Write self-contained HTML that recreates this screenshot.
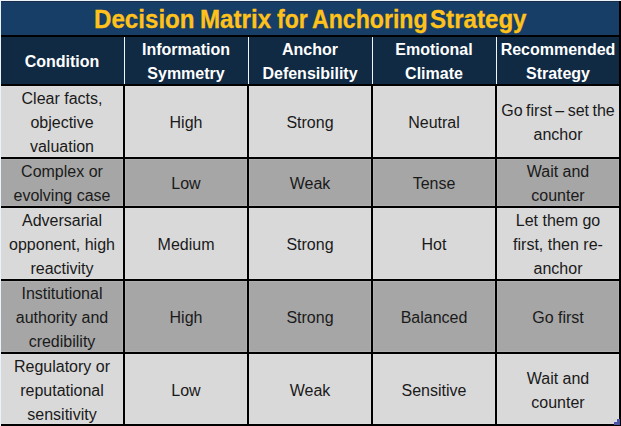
<!DOCTYPE html>
<html><head><meta charset="utf-8">
<style>
html,body{margin:0;padding:0;}
body{width:621px;height:426px;position:relative;overflow:hidden;background:#eaf3fb;font-family:"Liberation Sans",sans-serif;}
.a{position:absolute;}
.k{position:absolute;background:#000;}
.s{position:absolute;box-shadow:0 0 0 1px rgba(255,255,255,0.09);}
.title{left:1px;top:1px;width:618px;height:34px;background:#163e66;border-top:1px solid #1a2e4a;box-sizing:border-box;color:#ffc21a;font-weight:bold;font-size:24px;text-align:center;line-height:35px;letter-spacing:-0.39px;}
.tw{position:absolute;top:2px;height:34px;line-height:35px;color:#ffc21a;font-weight:bold;font-size:25px;white-space:nowrap;transform:scaleX(0.965);transform-origin:0 0;-webkit-text-stroke:0.3px #ffc21a;}
.hdr{top:37px;height:47px;background:#102a44;}
.c{position:absolute;box-sizing:border-box;padding-top:2px;display:flex;align-items:center;justify-content:center;text-align:center;font-size:16px;line-height:24px;color:#1a1a1a;}
.h{color:#fff;font-weight:bold;}
.l{background:#d9d9d9;}
.d{background:#a6a6a6;}
.w{position:absolute;background:#f2f6fa;width:1px;top:37px;height:47px;}
</style></head><body>
<div class="a title"></div>
<div class="tw" style="left:94px">Decision</div>
<div class="tw" style="left:200px">Matrix</div>
<div class="tw" style="left:277px;transform:scaleX(0.92)">for</div>
<div class="tw" style="left:312px;transform:scaleX(0.925)">Anchoring</div>
<div class="tw" style="left:430px">Strategy</div>
<div class="a hdr" style="left:1px;width:618px"></div>

<!-- header cells -->
<div class="c h" style="left:1px;top:37px;width:122px;height:47px"><div>Condition</div></div>
<div class="c h" style="left:125px;top:37px;width:122px;height:47px"><div>Information<br>Symmetry</div></div>
<div class="c h" style="left:249px;top:37px;width:122px;height:47px"><div>Anchor<br>Defensibility</div></div>
<div class="c h" style="left:373px;top:37px;width:122px;height:47px"><div>Emotional<br>Climate</div></div>
<div class="c h" style="left:497px;top:37px;width:122px;height:47px"><div>Recommended<br>Strategy</div></div>

<!-- row backgrounds -->
<div class="a l" style="left:1px;top:86px;width:618px;height:71px"></div>
<div class="a d" style="left:1px;top:159px;width:618px;height:47px"></div>
<div class="a l" style="left:1px;top:208px;width:618px;height:71px"></div>
<div class="a d" style="left:1px;top:281px;width:618px;height:71px"></div>
<div class="a l" style="left:1px;top:354px;width:618px;height:70px"></div>

<!-- row 1 -->
<div class="c" style="left:1px;top:86px;width:122px;height:71px"><div>Clear facts,<br>objective<br>valuation</div></div>
<div class="c" style="left:125px;top:86px;width:122px;height:71px"><div>High</div></div>
<div class="c" style="left:249px;top:86px;width:122px;height:71px"><div>Strong</div></div>
<div class="c" style="left:373px;top:86px;width:122px;height:71px"><div>Neutral</div></div>
<div class="c" style="left:497px;top:86px;width:122px;height:71px"><div><span style="word-spacing:-1px">Go first – set the</span><br>anchor</div></div>
<!-- row 2 -->
<div class="c" style="left:1px;top:159px;width:122px;height:47px"><div>Complex or<br>evolving case</div></div>
<div class="c" style="left:125px;top:159px;width:122px;height:47px"><div>Low</div></div>
<div class="c" style="left:249px;top:159px;width:122px;height:47px"><div>Weak</div></div>
<div class="c" style="left:373px;top:159px;width:122px;height:47px"><div>Tense</div></div>
<div class="c" style="left:497px;top:159px;width:122px;height:47px"><div>Wait and<br>counter</div></div>
<!-- row 3 -->
<div class="c" style="left:1px;top:208px;width:122px;height:71px"><div>Adversarial<br>opponent, high<br>reactivity</div></div>
<div class="c" style="left:125px;top:208px;width:122px;height:71px"><div>Medium</div></div>
<div class="c" style="left:249px;top:208px;width:122px;height:71px"><div>Strong</div></div>
<div class="c" style="left:373px;top:208px;width:122px;height:71px"><div>Hot</div></div>
<div class="c" style="left:497px;top:208px;width:122px;height:71px"><div>Let them go<br>first, then re-<br>anchor</div></div>
<!-- row 4 -->
<div class="c" style="left:1px;top:281px;width:122px;height:71px"><div>Institutional<br>authority and<br>credibility</div></div>
<div class="c" style="left:125px;top:281px;width:122px;height:71px"><div>High</div></div>
<div class="c" style="left:249px;top:281px;width:122px;height:71px"><div>Strong</div></div>
<div class="c" style="left:373px;top:281px;width:122px;height:71px"><div>Balanced</div></div>
<div class="c" style="left:497px;top:281px;width:122px;height:71px"><div>Go first</div></div>
<!-- row 5 -->
<div class="c" style="left:1px;top:354px;width:122px;height:70px;padding-top:3px"><div>Regulatory or<br>reputational<br>sensitivity</div></div>
<div class="c" style="left:125px;top:354px;width:122px;height:70px;padding-top:3px"><div>Low</div></div>
<div class="c" style="left:249px;top:354px;width:122px;height:70px;padding-top:3px"><div>Weak</div></div>
<div class="c" style="left:373px;top:354px;width:122px;height:70px;padding-top:3px"><div>Sensitive</div></div>
<div class="c" style="left:497px;top:354px;width:122px;height:70px;padding-top:3px"><div>Wait and<br>counter</div></div>

<!-- halos -->
<div class="s" style="left:1px;top:85px;width:620px;height:1px"></div>
<div class="s" style="left:1px;top:157px;width:620px;height:2px"></div>
<div class="s" style="left:1px;top:206px;width:620px;height:2px"></div>
<div class="s" style="left:1px;top:279px;width:620px;height:2px"></div>
<div class="s" style="left:1px;top:352px;width:620px;height:2px"></div>
<div class="s" style="left:1px;top:424px;width:620px;height:2px"></div>
<div class="s" style="left:123px;top:86px;width:2px;height:340px"></div>
<div class="s" style="left:247px;top:86px;width:2px;height:340px"></div>
<div class="s" style="left:371px;top:86px;width:2px;height:340px"></div>
<div class="s" style="left:495px;top:86px;width:2px;height:340px"></div>
<div class="s" style="left:619px;top:86px;width:2px;height:340px"></div>
<!-- horizontal black lines -->
<div class="k" style="left:1px;top:35px;width:620px;height:2px"></div>
<div class="k" style="left:1px;top:84px;width:620px;height:2px"></div>
<div class="k" style="left:1px;top:157px;width:620px;height:2px"></div>
<div class="k" style="left:1px;top:206px;width:620px;height:2px"></div>
<div class="k" style="left:1px;top:279px;width:620px;height:2px"></div>
<div class="k" style="left:1px;top:352px;width:620px;height:2px"></div>
<div class="k" style="left:1px;top:424px;width:620px;height:2px"></div>
<!-- vertical black lines (body) -->
<div class="k" style="left:123px;top:86px;width:2px;height:340px"></div>
<div class="k" style="left:247px;top:86px;width:2px;height:340px"></div>
<div class="k" style="left:371px;top:86px;width:2px;height:340px"></div>
<div class="k" style="left:495px;top:86px;width:2px;height:340px"></div>
<div class="k" style="left:619px;top:1px;width:2px;height:425px"></div>
<!-- header white separators -->
<div class="w" style="left:124px"></div>
<div class="w" style="left:248px"></div>
<div class="w" style="left:372px"></div>
<div class="w" style="left:496px"></div>
<!-- corner handle -->
<div class="a" style="left:617px;top:419px;width:3px;height:6px;background:#4a55a8"></div>
<div class="a" style="left:614px;top:422px;width:6px;height:3px;background:#4a55a8"></div>
</body></html>
